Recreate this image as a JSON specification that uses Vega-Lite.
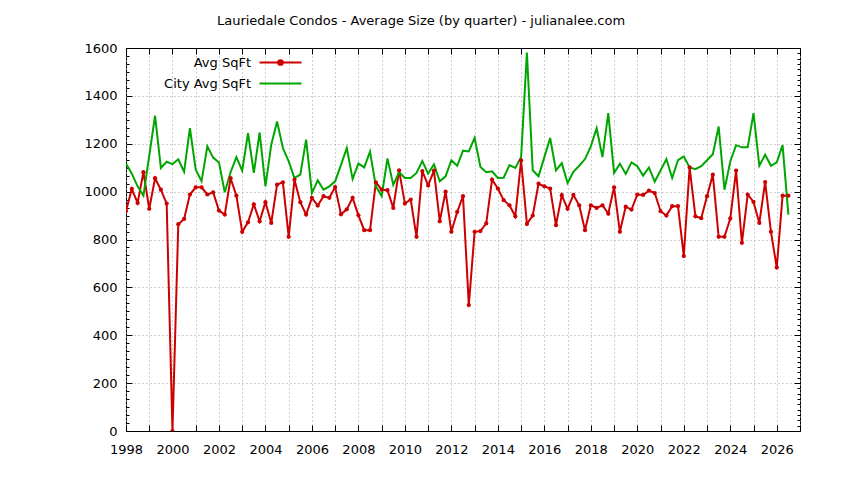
{
  "$schema": "https://vega.github.io/schema/vega-lite/v6.json",
  "width": 674,
  "height": 383,
  "autosize": "none",
  "padding": {"left": 126, "top": 48, "right": 44, "bottom": 49},
  "background": "white",
  "title": {
    "text": "Lauriedale Condos - Average Size (by quarter) - julianalee.com",
    "anchor": "middle",
    "dx": -42,
    "offset": 14,
    "font": "DejaVu Sans",
    "fontSize": 13,
    "fontWeight": "normal",
    "color": "#000"
  },
  "data": {
    "values": [
      {"t": 1998.0, "Avg SqFt": 919, "City Avg SqFt": 1117},
      {"t": 1998.25, "Avg SqFt": 1011, "City Avg SqFt": 1075},
      {"t": 1998.5, "Avg SqFt": 953, "City Avg SqFt": 1022},
      {"t": 1998.75, "Avg SqFt": 1081, "City Avg SqFt": 983},
      {"t": 1999.0, "Avg SqFt": 928, "City Avg SqFt": 1150},
      {"t": 1999.25, "Avg SqFt": 1056, "City Avg SqFt": 1317},
      {"t": 1999.5, "Avg SqFt": 1008, "City Avg SqFt": 1099},
      {"t": 1999.75, "Avg SqFt": 950, "City Avg SqFt": 1125},
      {"t": 2000.0, "Avg SqFt": 0, "City Avg SqFt": 1115},
      {"t": 2000.25, "Avg SqFt": 864, "City Avg SqFt": 1135},
      {"t": 2000.5, "Avg SqFt": 886, "City Avg SqFt": 1083},
      {"t": 2000.75, "Avg SqFt": 988, "City Avg SqFt": 1265},
      {"t": 2001.0, "Avg SqFt": 1018, "City Avg SqFt": 1092},
      {"t": 2001.25, "Avg SqFt": 1018, "City Avg SqFt": 1044},
      {"t": 2001.5, "Avg SqFt": 988, "City Avg SqFt": 1189},
      {"t": 2001.75, "Avg SqFt": 997, "City Avg SqFt": 1142},
      {"t": 2002.0, "Avg SqFt": 921, "City Avg SqFt": 1122},
      {"t": 2002.25, "Avg SqFt": 904, "City Avg SqFt": 997},
      {"t": 2002.5, "Avg SqFt": 1056, "City Avg SqFt": 1081},
      {"t": 2002.75, "Avg SqFt": 983, "City Avg SqFt": 1144},
      {"t": 2003.0, "Avg SqFt": 832, "City Avg SqFt": 1088},
      {"t": 2003.25, "Avg SqFt": 872, "City Avg SqFt": 1244},
      {"t": 2003.5, "Avg SqFt": 947, "City Avg SqFt": 1078},
      {"t": 2003.75, "Avg SqFt": 876, "City Avg SqFt": 1247},
      {"t": 2004.0, "Avg SqFt": 956, "City Avg SqFt": 1022},
      {"t": 2004.25, "Avg SqFt": 869, "City Avg SqFt": 1196},
      {"t": 2004.5, "Avg SqFt": 1029, "City Avg SqFt": 1293},
      {"t": 2004.75, "Avg SqFt": 1039, "City Avg SqFt": 1182},
      {"t": 2005.0, "Avg SqFt": 811, "City Avg SqFt": 1126},
      {"t": 2005.25, "Avg SqFt": 1050, "City Avg SqFt": 1057},
      {"t": 2005.5, "Avg SqFt": 956, "City Avg SqFt": 1071},
      {"t": 2005.75, "Avg SqFt": 904, "City Avg SqFt": 1217},
      {"t": 2006.0, "Avg SqFt": 974, "City Avg SqFt": 994},
      {"t": 2006.25, "Avg SqFt": 942, "City Avg SqFt": 1047},
      {"t": 2006.5, "Avg SqFt": 981, "City Avg SqFt": 1008},
      {"t": 2006.75, "Avg SqFt": 974, "City Avg SqFt": 1022},
      {"t": 2007.0, "Avg SqFt": 1019, "City Avg SqFt": 1043},
      {"t": 2007.25, "Avg SqFt": 905, "City Avg SqFt": 1112},
      {"t": 2007.5, "Avg SqFt": 926, "City Avg SqFt": 1182},
      {"t": 2007.75, "Avg SqFt": 974, "City Avg SqFt": 1053},
      {"t": 2008.0, "Avg SqFt": 901, "City Avg SqFt": 1117},
      {"t": 2008.25, "Avg SqFt": 839, "City Avg SqFt": 1101},
      {"t": 2008.5, "Avg SqFt": 839, "City Avg SqFt": 1167},
      {"t": 2008.75, "Avg SqFt": 1039, "City Avg SqFt": 1022},
      {"t": 2009.0, "Avg SqFt": 1008, "City Avg SqFt": 981},
      {"t": 2009.25, "Avg SqFt": 1006, "City Avg SqFt": 1139},
      {"t": 2009.5, "Avg SqFt": 932, "City Avg SqFt": 1028},
      {"t": 2009.75, "Avg SqFt": 1089, "City Avg SqFt": 1081},
      {"t": 2010.0, "Avg SqFt": 950, "City Avg SqFt": 1057},
      {"t": 2010.25, "Avg SqFt": 967, "City Avg SqFt": 1057},
      {"t": 2010.5, "Avg SqFt": 811, "City Avg SqFt": 1078},
      {"t": 2010.75, "Avg SqFt": 1086, "City Avg SqFt": 1128},
      {"t": 2011.0, "Avg SqFt": 1026, "City Avg SqFt": 1075},
      {"t": 2011.25, "Avg SqFt": 1088, "City Avg SqFt": 1114},
      {"t": 2011.5, "Avg SqFt": 876, "City Avg SqFt": 1043},
      {"t": 2011.75, "Avg SqFt": 1000, "City Avg SqFt": 1064},
      {"t": 2012.0, "Avg SqFt": 832, "City Avg SqFt": 1131},
      {"t": 2012.25, "Avg SqFt": 915, "City Avg SqFt": 1108},
      {"t": 2012.5, "Avg SqFt": 981, "City Avg SqFt": 1171},
      {"t": 2012.75, "Avg SqFt": 526, "City Avg SqFt": 1168},
      {"t": 2013.0, "Avg SqFt": 832, "City Avg SqFt": 1225},
      {"t": 2013.25, "Avg SqFt": 835, "City Avg SqFt": 1103},
      {"t": 2013.5, "Avg SqFt": 867, "City Avg SqFt": 1081},
      {"t": 2013.75, "Avg SqFt": 1050, "City Avg SqFt": 1085},
      {"t": 2014.0, "Avg SqFt": 1013, "City Avg SqFt": 1057},
      {"t": 2014.25, "Avg SqFt": 964, "City Avg SqFt": 1058},
      {"t": 2014.5, "Avg SqFt": 943, "City Avg SqFt": 1111},
      {"t": 2014.75, "Avg SqFt": 897, "City Avg SqFt": 1099},
      {"t": 2015.0, "Avg SqFt": 1131, "City Avg SqFt": 1144},
      {"t": 2015.25, "Avg SqFt": 865, "City Avg SqFt": 1581},
      {"t": 2015.5, "Avg SqFt": 900, "City Avg SqFt": 1089},
      {"t": 2015.75, "Avg SqFt": 1033, "City Avg SqFt": 1064},
      {"t": 2016.0, "Avg SqFt": 1022, "City Avg SqFt": 1144},
      {"t": 2016.25, "Avg SqFt": 1013, "City Avg SqFt": 1224},
      {"t": 2016.5, "Avg SqFt": 860, "City Avg SqFt": 1089},
      {"t": 2016.75, "Avg SqFt": 985, "City Avg SqFt": 1119},
      {"t": 2017.0, "Avg SqFt": 928, "City Avg SqFt": 1036},
      {"t": 2017.25, "Avg SqFt": 986, "City Avg SqFt": 1083},
      {"t": 2017.5, "Avg SqFt": 943, "City Avg SqFt": 1108},
      {"t": 2017.75, "Avg SqFt": 839, "City Avg SqFt": 1136},
      {"t": 2018.0, "Avg SqFt": 943, "City Avg SqFt": 1189},
      {"t": 2018.25, "Avg SqFt": 932, "City Avg SqFt": 1265},
      {"t": 2018.5, "Avg SqFt": 943, "City Avg SqFt": 1144},
      {"t": 2018.75, "Avg SqFt": 908, "City Avg SqFt": 1328},
      {"t": 2019.0, "Avg SqFt": 1018, "City Avg SqFt": 1078},
      {"t": 2019.25, "Avg SqFt": 832, "City Avg SqFt": 1117},
      {"t": 2019.5, "Avg SqFt": 937, "City Avg SqFt": 1074},
      {"t": 2019.75, "Avg SqFt": 925, "City Avg SqFt": 1122},
      {"t": 2020.0, "Avg SqFt": 988, "City Avg SqFt": 1106},
      {"t": 2020.25, "Avg SqFt": 986, "City Avg SqFt": 1067},
      {"t": 2020.5, "Avg SqFt": 1004, "City Avg SqFt": 1101},
      {"t": 2020.75, "Avg SqFt": 994, "City Avg SqFt": 1042},
      {"t": 2021.0, "Avg SqFt": 918, "City Avg SqFt": 1088},
      {"t": 2021.25, "Avg SqFt": 900, "City Avg SqFt": 1136},
      {"t": 2021.5, "Avg SqFt": 939, "City Avg SqFt": 1057},
      {"t": 2021.75, "Avg SqFt": 939, "City Avg SqFt": 1131},
      {"t": 2022.0, "Avg SqFt": 731, "City Avg SqFt": 1147},
      {"t": 2022.25, "Avg SqFt": 1101, "City Avg SqFt": 1101},
      {"t": 2022.5, "Avg SqFt": 897, "City Avg SqFt": 1094},
      {"t": 2022.75, "Avg SqFt": 889, "City Avg SqFt": 1106},
      {"t": 2023.0, "Avg SqFt": 981, "City Avg SqFt": 1131},
      {"t": 2023.25, "Avg SqFt": 1071, "City Avg SqFt": 1156},
      {"t": 2023.5, "Avg SqFt": 811, "City Avg SqFt": 1272},
      {"t": 2023.75, "Avg SqFt": 811, "City Avg SqFt": 1008},
      {"t": 2024.0, "Avg SqFt": 888, "City Avg SqFt": 1126},
      {"t": 2024.25, "Avg SqFt": 1088, "City Avg SqFt": 1194},
      {"t": 2024.5, "Avg SqFt": 786, "City Avg SqFt": 1185},
      {"t": 2024.75, "Avg SqFt": 988, "City Avg SqFt": 1185},
      {"t": 2025.0, "Avg SqFt": 957, "City Avg SqFt": 1328},
      {"t": 2025.25, "Avg SqFt": 869, "City Avg SqFt": 1108},
      {"t": 2025.5, "Avg SqFt": 1040, "City Avg SqFt": 1154},
      {"t": 2025.75, "Avg SqFt": 832, "City Avg SqFt": 1108},
      {"t": 2026.0, "Avg SqFt": 683, "City Avg SqFt": 1122},
      {"t": 2026.25, "Avg SqFt": 983, "City Avg SqFt": 1194},
      {"t": 2026.5, "Avg SqFt": 983, "City Avg SqFt": 904}
    ]
  },
  "transform": [
    {"fold": ["Avg SqFt", "City Avg SqFt"], "as": ["series", "sqft"]}
  ],
  "layer": [
    {
      "mark": {"type": "line", "strokeWidth": 2, "clip": true},
      "encoding": {
        "x": {
          "field": "t", "type": "quantitative",
          "scale": {"domain": [1998, 2027], "nice": false, "zero": false},
          "axis": {
            "title": null,
            "values": [1998, 1999, 2000, 2001, 2002, 2003, 2004, 2005, 2006, 2007, 2008, 2009, 2010, 2011, 2012, 2013, 2014, 2015, 2016, 2017, 2018, 2019, 2020, 2021, 2022, 2023, 2024, 2025, 2026, 2027],
            "format": "d",
            "labelExpr": "datum.value % 2 == 0 && datum.value < 2027 ? datum.label : ''",
            "labelOverlap": false,
            "labelFlush": false,
            "offset": -6,
            "tickSize": 6,
            "labelPadding": 12
          }
        },
        "y": {
          "field": "sqft", "type": "quantitative",
          "scale": {"domain": [0, 1600], "nice": false},
          "axis": {
            "title": null,
            "values": [0, 33.33, 66.67, 100, 133.33, 166.67, 200, 233.33, 266.67, 300, 333.33, 366.67, 400, 433.33, 466.67, 500, 533.33, 566.67, 600, 633.33, 666.67, 700, 733.33, 766.67, 800, 833.33, 866.67, 900, 933.33, 966.67, 1000, 1033.33, 1066.67, 1100, 1133.33, 1166.67, 1200, 1233.33, 1266.67, 1300, 1333.33, 1366.67, 1400, 1433.33, 1466.67, 1500, 1533.33, 1566.67, 1600],
            "format": "d",
            "labelExpr": "datum.value % 200 == 0 ? datum.label : ''",
            "labelOverlap": false,
            "labelFlush": false,
            "gridOpacity": {"condition": {"test": "datum.value % 200 == 0 && datum.value > 0 && datum.value < 1600", "value": 1}, "value": 0},
            "offset": -6,
            "tickSize": 6,
            "tickDash": {"condition": {"test": "datum.value % 200 == 0", "value": [6, 0]}, "value": [0, 3, 3, 0]},
            "labelPadding": 9
          }
        },
        "color": {
          "field": "series", "type": "nominal",
          "scale": {"domain": ["Avg SqFt", "City Avg SqFt"], "range": ["#cc0000", "#00a600"]},
          "legend": {
            "title": null,
            "orient": "none",
            "legendX": 148,
            "legendY": 8,
            "symbolType": "M-4,0L4,0",
            "symbolSize": 110,
            "symbolStrokeWidth": 2,
            "labelAlign": "right",
            "labelOffset": -36,
            "rowPadding": 7,
            "padding": 0,
            "encode": {
              "symbols": {
                "update": {
                  "shape": [
                    {"test": "datum.value == 'Avg SqFt'", "value": "M-4,0L4,0M-0.45,0A0.45,0.45,0,1,0,0.45,0A0.45,0.45,0,1,0,-0.45,0Z"},
                    {"value": "M-4,0L4,0"}
                  ],
                  "fill": [
                    {"test": "datum.value == 'Avg SqFt'", "value": "#cc0000"},
                    {"value": "transparent"}
                  ]
                }
              }
            }
          }
        }
      }
    },
    {
      "transform": [{"filter": "datum.series == 'Avg SqFt'"}],
      "mark": {"type": "point", "filled": true, "shape": "circle", "size": 18, "opacity": 1, "clip": true},
      "encoding": {
        "x": {
          "field": "t", "type": "quantitative",
          "axis": {
            "orient": "top",
            "title": null,
            "values": [1998, 1999, 2000, 2001, 2002, 2003, 2004, 2005, 2006, 2007, 2008, 2009, 2010, 2011, 2012, 2013, 2014, 2015, 2016, 2017, 2018, 2019, 2020, 2021, 2022, 2023, 2024, 2025, 2026, 2027],
            "labels": false,
            "grid": false,
            "offset": -6,
            "tickSize": 6
          }
        },
        "y": {
          "field": "sqft", "type": "quantitative",
          "axis": {
            "orient": "right",
            "title": null,
            "values": [0, 22.22, 44.44, 66.67, 88.89, 111.11, 133.33, 155.56, 177.78, 200, 222.22, 244.44, 266.67, 288.89, 311.11, 333.33, 355.56, 377.78, 400, 422.22, 444.44, 466.67, 488.89, 511.11, 533.33, 555.56, 577.78, 600, 622.22, 644.44, 666.67, 688.89, 711.11, 733.33, 755.56, 777.78, 800, 822.22, 844.44, 866.67, 888.89, 911.11, 933.33, 955.56, 977.78, 1000, 1022.22, 1044.44, 1066.67, 1088.89, 1111.11, 1133.33, 1155.56, 1177.78, 1200, 1222.22, 1244.44, 1266.67, 1288.89, 1311.11, 1333.33, 1355.56, 1377.78, 1400, 1422.22, 1444.44, 1466.67, 1488.89, 1511.11, 1533.33, 1555.56, 1577.78, 1600],
            "labels": false,
            "grid": false,
            "offset": -6,
            "tickSize": 6,
            "tickDash": {"condition": {"test": "datum.value % 200 == 0", "value": [6, 0]}, "value": [0, 3, 3, 0]}
          }
        },
        "color": {"field": "series", "type": "nominal"}
      }
    }
  ],
  "resolve": {"axis": {"x": "independent", "y": "independent"}},
  "config": {
    "view": {"stroke": "#000", "strokeWidth": 1},
    "axis": {
      "domain": false,
      "ticks": true,
      "tickColor": "#000",
      "tickWidth": 1,
      "tickOpacity": 1,
      "labelFont": "DejaVu Sans",
      "labelFontSize": 13,
      "labelColor": "#000",
      "gridColor": "#a0a0a0",
      "gridDash": [1, 3],
      "gridWidth": 1
    },
    "legend": {
      "labelFont": "DejaVu Sans",
      "labelFontSize": 13,
      "labelColor": "#000"
    }
  }
}
